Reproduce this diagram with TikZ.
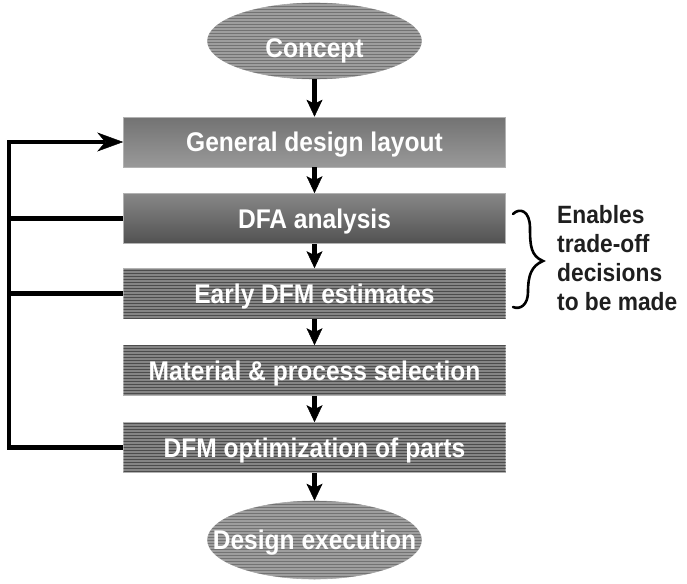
\documentclass[tikz,border=0pt]{standalone}
\usepackage{fontspec}
\setmainfont{Liberation Sans}
\newfontfamily\boxfont[FakeStretch=0.91]{Liberation Sans}
\usetikzlibrary{arrows.meta,shapes.geometric,patterns}

\tikzset{
    stage/.style={draw=black!30, line width=0.6pt, minimum width=382pt, minimum height=50pt,
        inner sep=0pt, text=white, text height=19pt, text depth=0pt,
        font=\boxfont\bfseries\fontsize{27}{27}\selectfont},
    textured/.style={stage, fill=black!48, postaction={pattern=horizontal lines, pattern color=black!70}},
    terminal/.style={ellipse, draw=black!35, line width=0.6pt, minimum width=214pt, inner sep=0pt,
        fill=black!38, postaction={pattern=horizontal lines, pattern color=black!55},
        text=white, text height=19pt, text depth=0pt,
        font=\boxfont\bfseries\fontsize{27}{27}\selectfont},
    flow/.style={line width=4.5pt, -{Stealth[length=17pt, width=16pt, inset=4pt, line width=0.5pt]}},
    feedback/.style={line width=4.5pt},
}

\begin{document}
\begin{tikzpicture}[x=1pt, y=-1pt]
    \useasboundingbox (0,0) rectangle (687,583);

    \node[terminal, minimum height=76pt] (concept) at (314.5,41) {\raisebox{-7pt}[0pt][0pt]{\makebox[0pt]{Concept}}};
    \node[stage, top color=black!55, bottom color=black!40] (layout) at (314.5,142) {General design layout};
    \node[stage, top color=black!47, bottom color=black!68] (dfa) at (314.5,218.5) {DFA analysis};
    \node[textured] (dfm) at (314.5,293.5) {Early DFM estimates};
    \node[textured] (select) at (314.5,370.5) {Material \& process selection};
    \node[textured] (opt) at (314.5,447.5) {DFM optimization of parts};
    \node[terminal, minimum height=78pt] (exec) at (314.5,540) {\makebox[0pt]{Design execution}};

    % main flow
    \foreach \a/\b in {concept/layout, layout/dfa, dfa/dfm, dfm/select, select/opt, opt/exec} {
        \draw[flow] (\a) -- (\b);
    }

    % feedback loop on the left
    \coordinate (loop) at (9,0);
    \draw[feedback, -{Stealth[length=26pt, width=19pt, inset=8pt, line width=0.5pt]}]
        (opt.west) -- (opt.west -| loop) |- (layout.west);
    \draw[feedback] (dfa.west) -- (dfa.west -| loop);
    \draw[feedback] (dfm.west) -- (dfm.west -| loop);

    % brace and note
    \draw[line width=2.6pt, line cap=round]
        (513,214) .. controls (520,207) and (530,211) .. (530,228)
        .. controls (530,246) and (531,256) .. (543,261)
        .. controls (531,266) and (528,276) .. (528,292)
        .. controls (528,305) and (520,310) .. (513,307);
    \node[anchor=north west, inner sep=0pt, align=left, text=black!88,
        font=\boxfont\bfseries\fontsize{25}{29}\selectfont] (note) at (557,205)
        {Enables\\trade-off\\decisions\\to be made};
\end{tikzpicture}
\end{document}
